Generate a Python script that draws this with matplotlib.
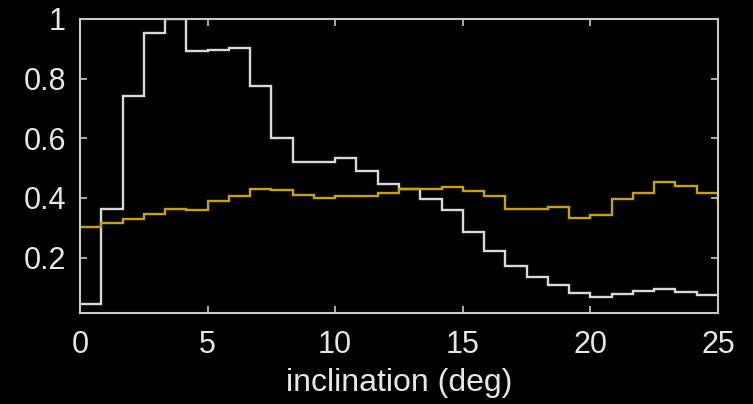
import numpy as np
import matplotlib.pyplot as plt

# histogram bin edges (deg), 30 bins of 25/30 plus one clipped bin past 25
edges = np.linspace(0, 25 + 25 / 30, 32)

white_vals = [0.044, 0.362, 0.742, 0.953, 1.0, 0.892, 0.897, 0.904, 0.774, 0.601,
              0.519, 0.519, 0.533, 0.490, 0.448, 0.430, 0.396, 0.361, 0.286, 0.221,
              0.171, 0.135, 0.107, 0.082, 0.068, 0.077, 0.087, 0.094, 0.083, 0.075,
              0.075]
yellow_vals = [0.301, 0.316, 0.329, 0.345, 0.362, 0.361, 0.389, 0.408, 0.430, 0.428,
               0.410, 0.399, 0.405, 0.408, 0.415, 0.430, 0.430, 0.437, 0.423, 0.406,
               0.364, 0.364, 0.370, 0.334, 0.344, 0.395, 0.418, 0.452, 0.439, 0.417,
               0.390]

xticks = [0, 5, 10, 15, 20, 25]
yticks = [0.2, 0.4, 0.6, 0.8, 1.0]
yticklabels = ["0.2", "0.4", "0.6", "0.8", "1"]

plt.rcParams['font.family'] = ['Liberation Sans', 'DejaVu Sans']

fig = plt.figure(figsize=(7.53, 4.04), dpi=100, facecolor='black')
ax = fig.add_axes([0.1062, 0.2252, 0.8473, 0.7278])
ax.set_facecolor('black')

ax.stairs(white_vals, edges, color='#d9d9d9', linewidth=1.7, baseline=None)
ax.stairs(yellow_vals, edges, color='#c9a10a', linewidth=1.7, baseline=None)

ax.set_xlim(0, 25)
ax.set_ylim(0.014, 1.0)
ax.set_xticks(xticks)
ax.set_yticks(yticks)
ax.set_yticklabels(yticklabels)

for s in ax.spines.values():
    s.set_color('#c8c8c8')
    s.set_linewidth(1.5)
ax.tick_params(direction='in', length=5, width=1.2, color='#c8c8c8',
               labelcolor='#e6e6e6', labelsize=22, top=True, right=True)
ax.tick_params(axis='x', pad=12)
ax.tick_params(axis='y', pad=10)
ax.set_xlabel("inclination (deg)", color='#e6e6e6', fontsize=23, labelpad=6)

fig.savefig("out.png", dpi=100, facecolor='black')
